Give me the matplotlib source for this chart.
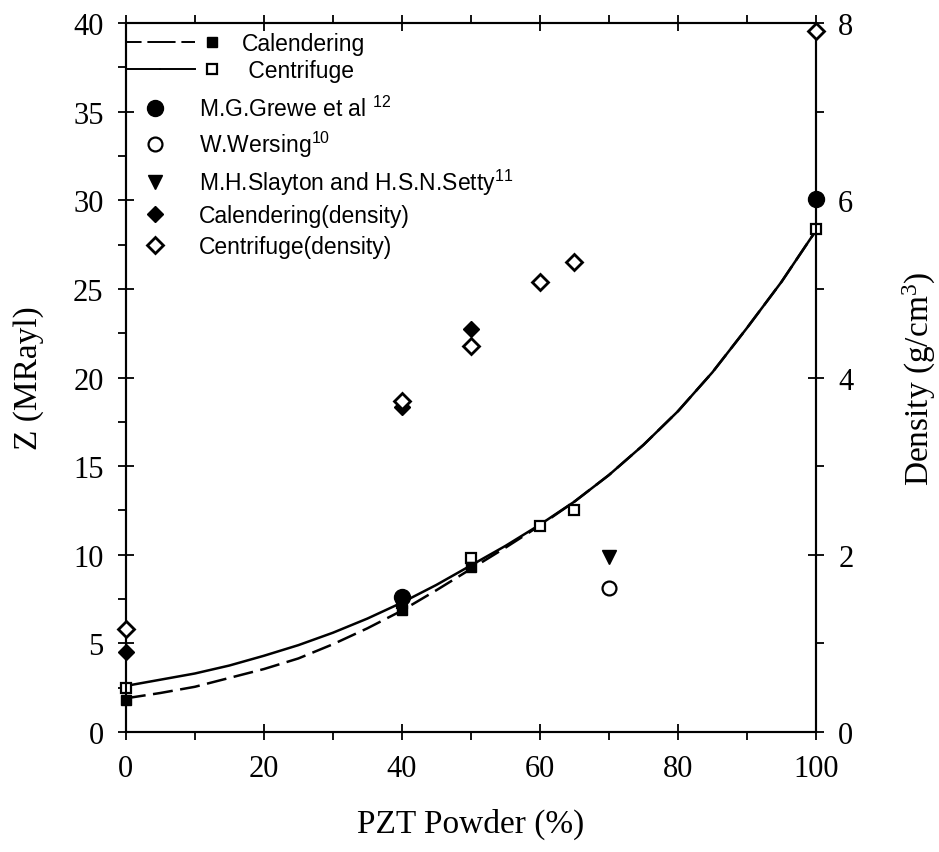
import matplotlib
matplotlib.use("Agg")
import matplotlib.pyplot as plt
from matplotlib.lines import Line2D
from matplotlib.legend_handler import HandlerTuple
from matplotlib.ticker import MultipleLocator

# fitted curves
fit_x = [0, 5, 10, 15, 20, 25, 30, 35, 40, 45, 50,
         55, 60, 65, 70, 75, 80, 85, 90, 95, 100]
fit_cen = [2.6, 2.95, 3.3, 3.75, 4.3, 4.9, 5.6, 6.4, 7.3, 8.3, 9.4,
           10.5, 11.7, 13.0, 14.5, 16.2, 18.1, 20.3, 22.8, 25.4, 28.3]
fit_cal = [1.9, 2.2, 2.55, 3.05, 3.55, 4.15, 4.95, 5.85, 6.85, 8.0, 9.2,
           10.4, 11.65, 13.0, 14.5, 16.2, 18.1, 20.3, 22.8, 25.4, 28.3]

# measured impedance
cal_x = [0, 40, 50]
cal_z = [1.8, 6.9, 9.3]
cen_x = [0, 40, 50, 60, 65, 100]
cen_z = [2.5, 7.3, 9.8, 11.6, 12.5, 28.4]
grewe_x = [40, 100]
grewe_z = [7.6, 30.1]
wersing_x = [70]
wersing_z = [8.1]
slayton_x = [70]
slayton_z = [9.9]

# density (right axis)
cal_dx = [0, 40, 50]
cal_d = [0.90, 3.67, 4.55]
cen_dx = [0, 40, 50, 60, 65, 100]
cen_d = [1.16, 3.73, 4.36, 5.08, 5.30, 7.91]

serif = "Liberation Serif"
sans = "Liberation Sans"

fig = plt.figure(figsize=(9.39, 8.53), dpi=100)
ax = fig.add_axes([0.134, 0.1407, 0.735, 0.831])
ax2 = ax.twinx()

lw = 1.8
ax.plot(fit_x, fit_cal, color="k", lw=lw, dashes=(8, 3), zorder=2)
ax.plot(fit_x, fit_cen, color="k", lw=lw, zorder=2)

ms_kw = dict(linestyle="none", clip_on=False, zorder=4)
ax.plot(cen_x, cen_z, marker="s", ms=7, mfc="white", mec="k", mew=1.6, **ms_kw)
ax.plot(cal_x, cal_z, marker="s", ms=7, mfc="k", mec="k", **ms_kw)
ax.plot(grewe_x, grewe_z, marker="o", ms=11.5, mfc="k", mec="k", **ms_kw)
ax.plot(wersing_x, wersing_z, marker="o", ms=10, mfc="white", mec="k", mew=1.6, **ms_kw)
ax.plot(slayton_x, slayton_z, marker="v", ms=10, mfc="k", mec="k", **ms_kw)

ax2.plot(cal_dx, cal_d, marker="D", ms=8, mfc="k", mec="k", **ms_kw)
ax2.plot(cen_dx, cen_d, marker="D", ms=8, mfc="white", mec="k", mew=2, **ms_kw)

ax.set_xlim(0, 100)
ax.set_ylim(0, 40)
ax2.set_ylim(0, 8)

ax.xaxis.set_major_locator(MultipleLocator(20))
ax.xaxis.set_minor_locator(MultipleLocator(10))
ax.yaxis.set_major_locator(MultipleLocator(5))
ax.yaxis.set_minor_locator(MultipleLocator(2.5))
ax2.yaxis.set_major_locator(MultipleLocator(2))
ax2.yaxis.set_minor_locator(MultipleLocator(1))

for a in (ax, ax2):
    for s in a.spines.values():
        s.set_linewidth(1.5)
ax.tick_params(which="major", direction="inout", length=12, width=1.3,
               top=True, labelsize=22, pad=10)
ax.tick_params(which="minor", direction="out", length=6, width=1.3, top=True)
ax2.tick_params(which="major", direction="inout", length=12, width=1.3,
                labelsize=22, pad=10)
ax2.tick_params(which="minor", direction="out", length=6, width=1.3)
for lab in ax.get_xticklabels() + ax.get_yticklabels() + ax2.get_yticklabels():
    lab.set_fontfamily(serif)

ax.set_xlabel("PZT Powder (%)", fontfamily=serif, fontsize=24, labelpad=18)
ax.set_ylabel("Z (MRayl)", fontfamily=serif, fontsize=24, labelpad=21)
ax2.set_ylabel(r"Density (g/cm$\mathregular{^{3}}$)", fontfamily=serif,
               fontsize=24, labelpad=34)

# legend: line entries
seg_dash = Line2D([], [], color="k", lw=1.4, dashes=(8, 3))
seg_solid = Line2D([], [], color="k", lw=1.4)
m_cal = Line2D([], [], ls="none", marker="s", ms=7, mfc="k", mec="k")
m_cen = Line2D([], [], ls="none", marker="s", ms=7, mfc="white", mec="k", mew=1.6)
leg1 = ax2.legend([(seg_dash, seg_dash, m_cal), (seg_solid, seg_solid, m_cen)],
                  ["Calendering", " Centrifuge"],
                  handler_map={tuple: HandlerTuple(ndivide=None, pad=0)},
                  loc="upper left", bbox_to_anchor=(0.0, 0.988), frameon=False,
                  handlelength=4.5, handletextpad=0.55, borderaxespad=0,
                  borderpad=0, labelspacing=0.2,
                  prop={"family": sans, "size": 16.5})

mk = [
    Line2D([], [], ls="none", marker="o", ms=11.5, mfc="k", mec="k"),
    Line2D([], [], ls="none", marker="o", ms=10, mfc="white", mec="k", mew=1.6),
    Line2D([], [], ls="none", marker="v", ms=10, mfc="k", mec="k"),
    Line2D([], [], ls="none", marker="D", ms=8, mfc="k", mec="k"),
    Line2D([], [], ls="none", marker="D", ms=8, mfc="white", mec="k", mew=2),
]
names = [
    r"M.G.Grewe et al $\mathregular{^{12}}$",
    r"W.Wersing$\mathregular{^{10}}$",
    r"M.H.Slayton and H.S.N.Setty$\mathregular{^{11}}$",
    "Calendering(density)",
    "Centrifuge(density)",
]
leg2 = ax2.legend(mk, names, loc="upper left", bbox_to_anchor=(0.025, 0.897),
                  frameon=False, handlelength=1.0, handletextpad=1.45,
                  borderaxespad=0, borderpad=0, labelspacing=0.33,
                  prop={"family": sans, "size": 16.5})
ax2.add_artist(leg1)

fig.savefig("out.png", dpi=100)
